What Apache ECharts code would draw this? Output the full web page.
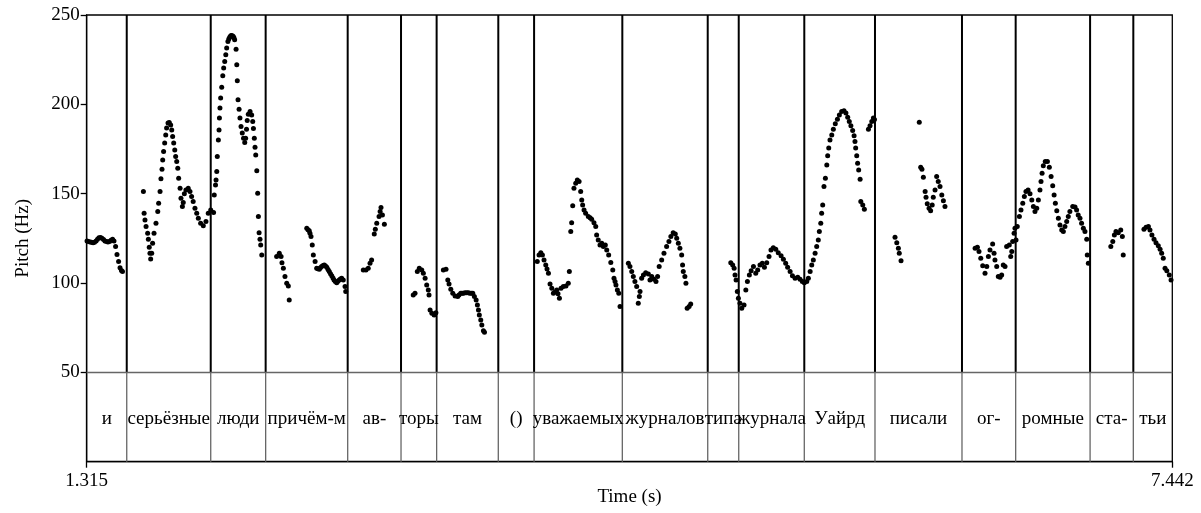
<!DOCTYPE html>
<html lang="ru">
<head>
<meta charset="UTF-8">
<title>pitch</title>
<script src="https://cdn.jsdelivr.net/npm/echarts@6/dist/echarts.min.js"></script>
<style>html,body{margin:0;padding:0;background:#fff}</style>
</head>
<body>
<div id="main" style="width:1201px;height:513px;"></div>
<script>
// time range (s) and pitch axis (Hz)
var tMin = 1.315, tMax = 7.442
var fMax = 250
var fTicks = [50, 100, 150, 200, 250]
var tierFloor = 50   // the word tier sits under this line

// interval edges of the word tier and the words
var edges = [1.315, 1.541, 2.015, 2.325, 2.788, 3.089, 3.290, 3.638, 3.840, 4.338,
             4.820, 4.995, 5.365, 5.764, 6.255, 6.558, 6.978, 7.222, 7.442]
var words = ['и', 'серьёзные', 'люди', 'причём-м', 'ав-', 'торы', 'там', '()', 'уважаемых',
             'журналов', 'типа', 'журнала', 'Уайрд', 'писали', 'ог-', 'ромные', 'ста-', 'тьи']

// pitch points [time, Hz]
// и серьёзные люди причём-м
var pitch1 = [
  [1.317,123.5],[1.325,123.3],[1.334,123],[1.342,122.8],[1.351,122.5],[1.359,122.8],[1.368,123.5],
  [1.376,124.5],[1.384,125.3],[1.393,125.5],[1.401,125],[1.410,124.3],[1.418,123.5],[1.427,123.2],
  [1.435,123],[1.444,123.3],[1.452,124],[1.461,124.5],[1.469,123.5],[1.478,120.5],[1.486,116],
  [1.495,112],[1.503,108.5],[1.511,107],[1.517,106.5],
  [1.635,151.2],[1.639,139.1],[1.644,135.3],[1.650,131.6],[1.659,127.9],[1.663,124.5],[1.668,120],
  [1.672,116.7],[1.676,113.5],[1.682,116.7],[1.687,122.3],[1.695,127.9],[1.706,133.5],[1.716,140],
  [1.721,144.7],[1.729,151.2],[1.734,158.3],[1.740,163.7],[1.744,168.9],[1.749,173.6],[1.755,178.3],
  [1.761,182.9],[1.766,186.7],[1.774,189.5],[1.781,189.8],[1.789,188.5],[1.795,185.7],[1.800,182],
  [1.806,178.3],[1.812,174.5],[1.817,170.8],[1.823,168],[1.829,164.3],[1.834,158.7],[1.842,153.1],
  [1.847,147.5],[1.855,142.8],[1.860,145],[1.866,150],[1.875,152.1],[1.888,153.1],[1.898,151.2],
  [1.907,148.4],[1.916,145.6],[1.926,141.9],[1.936,139.1],[1.945,136.3],[1.958,133.5],[1.973,132],
  [1.988,134.4],[2.001,139.1],[2.015,140.9],
  [2.031,139.5],[2.035,149.3],[2.042,154.9],[2.045,157.7],[2.049,162.4],[2.052,170.8],[2.058,180.1],
  [2.062,185.7],[2.064,192.3],[2.067,197.9],[2.071,203.5],[2.077,209.6],[2.083,216],[2.088,220.3],
  [2.094,224],[2.100,227.7],[2.105,231.5],[2.112,235.2],[2.117,236.5],[2.122,237.6],[2.127,238.2],
  [2.131,238.5],[2.137,238.4],[2.142,238],[2.146,237.3],[2.150,236.1],[2.158,230.9],[2.162,222.1],
  [2.165,213.2],[2.169,202.5],[2.175,197.3],[2.180,192.3],[2.186,187.6],[2.193,183.9],[2.200,181],
  [2.207,178.6],[2.212,181],[2.217,186],[2.221,191],[2.227,194.5],[2.237,196],[2.246,194.1],
  [2.252,190.4],[2.256,186.5],[2.261,181],[2.265,176],[2.269,171.7],[2.275,162.9],[2.280,150.3],
  [2.284,137.2],[2.288,128.2],[2.293,124.5],[2.297,121.3],[2.303,115.7],
  [2.387,114.8],[2.402,116.7],[2.412,114.8],[2.417,111.4],[2.425,108.3],[2.434,103.6],[2.444,99.9],
  [2.453,98.4],[2.458,90.5],
  [2.557,130.7],[2.564,129.8],[2.571,129.3],[2.575,127.8],[2.581,126],[2.588,121.3],[2.594,115.7],
  [2.604,112],[2.613,108.3],[2.620,108],[2.628,107.7],[2.634,108.5],[2.641,109.2],[2.649,109.8],
  [2.656,110.1],[2.663,109.5],[2.670,108.8],[2.677,107.5],[2.684,106.4],[2.691,105.2],[2.698,104],
  [2.705,102.8],[2.711,101.7],[2.718,100.8],[2.726,100.2],[2.733,101],[2.740,101.7],[2.747,102.3],
  [2.754,102.7],[2.763,101.7],[2.773,98],[2.777,95.2]
]
// ав- торы там
var pitch2 = [
  [2.876,107.3],[2.891,107.3],[2.904,108.3],[2.914,111.1],[2.923,112.9],[2.938,127.5],[2.944,130.1],
  [2.952,133.5],[2.965,137.2],[2.971,140],[2.976,142.2],[2.984,138.1],[2.995,132.9],
  [3.158,93.3],[3.168,94.3],[3.181,106.4],[3.192,108.3],[3.206,107.3],[3.215,105.5],[3.225,102.7],
  [3.234,98.9],[3.243,96.1],[3.247,93.3],[3.253,84.9],[3.263,83.1],[3.276,82.1],[3.286,83.4],
  [3.328,107.3],[3.343,107.7],[3.353,101.7],[3.360,99.5],[3.370,96.5],[3.381,94.3],[3.394,92.8],
  [3.409,92.4],[3.416,93.3],[3.426,94.3],[3.433,94.3],[3.441,94.3],[3.450,94.5],[3.460,94.6],
  [3.469,94.5],[3.478,94.3],[3.486,94.3],[3.494,94.3],[3.503,92.4],[3.513,90.5],[3.520,87.7],
  [3.526,84.9],[3.531,82.1],[3.539,79.3],[3.545,76.5],[3.554,73.3],[3.560,72.5]
]
// уважаемых журналов типа журнала Уайрд
var pitch3 = [
  [3.858,112],[3.868,115.7],[3.878,117],[3.887,115.7],[3.896,112.9],[3.906,110.1],[3.913,107.8],
  [3.921,105.5],[3.930,99.5],[3.940,97.1],[3.949,94.3],[3.958,95],[3.968,96.1],[3.975,94],
  [3.983,91.5],[3.992,97.1],[4.005,98],[4.020,98.4],[4.033,99.9],[4.039,106.4],[4.047,128.8],
  [4.052,133.8],[4.058,143.2],[4.065,153.1],[4.075,155.9],[4.084,157.7],[4.094,156.8],[4.103,151.2],
  [4.109,146.5],[4.114,143.7],[4.122,140.9],[4.131,139.1],[4.146,137.2],[4.156,136.5],[4.165,135.7],
  [4.178,133.8],[4.188,131.6],[4.193,126.9],[4.202,124.1],[4.212,121.3],[4.222,122.3],[4.231,120.4],
  [4.242,121.3],[4.250,118.5],[4.261,115.7],[4.273,111.5],[4.284,107.3],[4.291,102.7],[4.297,100.8],
  [4.302,98.9],[4.310,96.1],[4.318,94.3],[4.325,86.8],
  [4.372,111.1],[4.381,109.2],[4.391,106.4],[4.400,103.6],[4.409,100.8],[4.419,98],[4.428,88.7],
  [4.434,92.4],[4.438,95.2],[4.447,102.7],[4.457,104.5],[4.470,105.8],[4.485,105.1],[4.494,101.7],
  [4.504,103.6],[4.517,102.1],[4.528,100.8],[4.537,103.6],[4.546,109.2],[4.560,112.9],[4.573,116.7],
  [4.588,120.4],[4.601,123.2],[4.612,126],[4.625,128.2],[4.637,127.5],[4.645,125.1],[4.654,122.3],
  [4.663,119.5],[4.673,115.7],[4.678,110.1],[4.682,106.4],[4.691,103.6],[4.697,99.9],[4.704,85.9],
  [4.715,86.8],[4.724,88.3],
  [4.950,111.4],[4.961,110.1],[4.969,108.3],[4.974,104.5],[4.980,101.7],[4.987,95.2],[4.993,91.5],
  [5.002,88.7],[5.012,85.9],[5.025,87.7],[5.035,96.1],[5.044,100.8],[5.055,104.5],[5.065,106.9],
  [5.078,109.2],[5.091,105.5],[5.102,107.3],[5.115,110.1],[5.128,111.1],[5.140,108.8],[5.153,111.4],
  [5.166,114.8],[5.177,118.5],[5.190,119.8],[5.204,118.9],[5.218,117],[5.234,115.2],[5.247,113.3],
  [5.260,111.1],[5.271,108.8],[5.285,106.4],[5.298,104],[5.313,102.7],[5.328,103.2],[5.341,102.1],
  [5.354,100.8],[5.365,100.2],
  [5.379,100.8],[5.388,102.7],[5.398,106.4],[5.407,110.1],[5.416,112.9],[5.426,116.7],[5.435,120.4],
  [5.444,124.1],[5.450,128.8],[5.458,133.5],[5.463,139.1],[5.469,143.7],[5.476,154],[5.484,158.7],
  [5.492,166.1],[5.497,171.2],[5.503,175.5],[5.510,180.1],[5.520,182.9],[5.529,186.1],[5.540,189.1],
  [5.552,191.7],[5.563,194.1],[5.576,196],[5.589,196.4],[5.600,195.1],[5.610,192.8],[5.619,190.4],
  [5.628,188],[5.638,185.3],[5.646,182.4],[5.651,179.2],[5.655,175.5],[5.661,171.2],[5.666,167.1],
  [5.672,163.3],[5.680,158.1],[5.684,145.6],[5.695,143.7],[5.704,141.3],
  [5.727,186.1],[5.736,188],[5.746,190.4],[5.755,192.3],[5.761,191.5]
]
// писали огромные статьи
var pitch4 = [
  [5.877,125.6],[5.887,122.6],[5.896,119.5],[5.901,116.7],[5.911,112.5],
  [6.014,190],[6.022,164.8],[6.029,163.7],[6.037,159.2],[6.047,151.2],[6.052,148],[6.059,144.3],
  [6.069,141.9],[6.078,140.5],[6.087,143.7],[6.093,148],[6.103,152.1],[6.112,159.6],[6.121,156.8],
  [6.131,154],[6.141,149.3],[6.150,146.1],[6.159,142.8],
  [6.329,119.5],[6.342,120],[6.351,117.6],[6.361,113.9],[6.372,109.6],[6.385,105.5],[6.395,109.2],
  [6.404,114.8],[6.413,118.5],[6.428,121.9],[6.436,116.7],[6.441,112.9],[6.451,109.2],[6.460,103.6],
  [6.470,103.2],[6.479,104.5],[6.488,110.1],[6.498,109.2],[6.507,120.4],[6.522,121.3],[6.530,114.8],
  [6.536,117.6],[6.541,123.2],[6.549,127.9],[6.554,130.7],
  [6.560,124.1],[6.567,131.6],[6.579,137.2],[6.588,140.9],[6.598,144.7],[6.607,148.4],[6.616,151.2],
  [6.628,152.1],[6.639,149.9],[6.649,146.5],[6.658,142.8],[6.667,140],[6.677,141.9],[6.686,146.5],
  [6.695,152.1],[6.701,156.8],[6.707,161.5],[6.714,165.6],[6.725,168],[6.737,168],[6.748,164.8],
  [6.758,159.6],[6.767,154.4],[6.775,149.3],[6.782,144.7],[6.790,140.5],[6.799,136.3],[6.808,132.5],
  [6.818,129.7],[6.827,128.8],[6.836,131.6],[6.846,134.4],[6.855,137.2],[6.864,140],[6.880,142.8],
  [6.893,142.5],[6.902,140.9],[6.911,138.1],[6.921,136.3],[6.930,133.5],[6.940,130.7],[6.949,128.8],
  [6.959,124.5],[6.962,115.7],[6.968,111.1],
  [7.095,120.4],[7.106,123.2],[7.115,126.9],[7.124,128.8],[7.137,128.2],[7.151,129.7],[7.160,126],
  [7.165,115.7],
  [7.282,130.1],[7.294,131.2],[7.307,131.6],[7.316,129.7],[7.327,126.9],[7.339,124.5],[7.350,122.6],
  [7.363,120.8],[7.373,118.9],[7.382,116.7],[7.391,113.9],[7.401,108.3],[7.411,106.9],[7.425,104.5],
  [7.435,101.7]
]

var font = '"Liberation Serif", "Times New Roman", serif'
var chart = echarts.init(document.getElementById('main'))

var innerEdges = edges.slice(1, -1).map(function (t) { return [t, 0] })
var intervals = []
for (var i = 0; i < words.length; i++) intervals.push([edges[i], edges[i + 1], tierFloor / 2])

var option = {
  animation: false,
  grid: { left: 86.7, right: 28.7, top: 15, bottom: 51.3, show: true, borderColor: '#000', borderWidth: 1.3,
          outerBoundsMode: 'none', containLabel: false },
  xAxis: {
    type: 'value', min: tMin, max: tMax,
    name: 'Time (s)', nameLocation: 'middle', nameGap: 26, nameMoveOverlap: false,
    nameTextStyle: { color: '#000', fontSize: 19, fontFamily: font },
    splitLine: { show: false },
    axisLine: { show: true, lineStyle: { color: '#000', width: 1.3 } },
    axisTick: { show: true, length: 6, lineStyle: { color: '#000', width: 1.3 }, customValues: [tMin, tMax] },
    axisLabel: { color: '#000', fontSize: 19, fontFamily: font, margin: 10, customValues: [tMin, tMax],
      formatter: function (v) { return v.toFixed(3) } }
  },
  yAxis: {
    type: 'value', min: 0, max: fMax, interval: 50,
    name: 'Pitch (Hz)', nameLocation: 'middle', nameGap: 54,
    nameTextStyle: { color: '#000', fontSize: 19, fontFamily: font },
    splitLine: { show: false },
    axisLine: { show: true, lineStyle: { color: '#000', width: 1.3 } },
    axisTick: { show: true, length: 6, lineStyle: { color: '#000', width: 1.3 }, customValues: fTicks },
    axisLabel: { color: '#000', fontSize: 19, fontFamily: font, margin: 7, customValues: fTicks }
  },
  series: [
    {
      // word boundaries: bold in the pitch area, thin grey in the tier
      type: 'custom',
      data: innerEdges,
      encode: { x: 0, y: 1 },
      z: 1,
      renderItem: function (params, api) {
        var t = api.value(0)
        var top = api.coord([t, fMax])
        var mid = api.coord([t, tierFloor])
        var bot = api.coord([t, 0])
        return {
          type: 'group',
          children: [
            { type: 'line', shape: { x1: top[0], y1: top[1], x2: mid[0], y2: mid[1] },
              style: { stroke: '#000', lineWidth: 2 } },
            { type: 'line', shape: { x1: mid[0], y1: mid[1], x2: bot[0], y2: bot[1] },
              style: { stroke: '#666', lineWidth: 1.3 } }
          ]
        }
      }
    },
    {
      // tier words
      type: 'custom',
      data: intervals,
      encode: { x: [0, 1], y: 2 },
      z: 2,
      renderItem: function (params, api) {
        var p = api.coord([(api.value(0) + api.value(1)) / 2, api.value(2)])
        return {
          type: 'text', x: p[0], y: p[1] + 2,
          style: { text: words[params.dataIndex], fill: '#000', font: '19px ' + font,
                   align: 'center', verticalAlign: 'middle' }
        }
      }
    },
    {
      type: 'scatter',
      data: pitch1.concat(pitch2, pitch3, pitch4),
      symbolSize: 5,
      itemStyle: { color: '#000', opacity: 1 },
      z: 3,
      markLine: {
        silent: true, symbol: 'none', label: { show: false },
        lineStyle: { color: '#666', width: 1.3, type: 'solid' },
        data: [{ yAxis: tierFloor }]
      }
    }
  ]
}
chart.setOption(option)
</script>
</body>
</html>
